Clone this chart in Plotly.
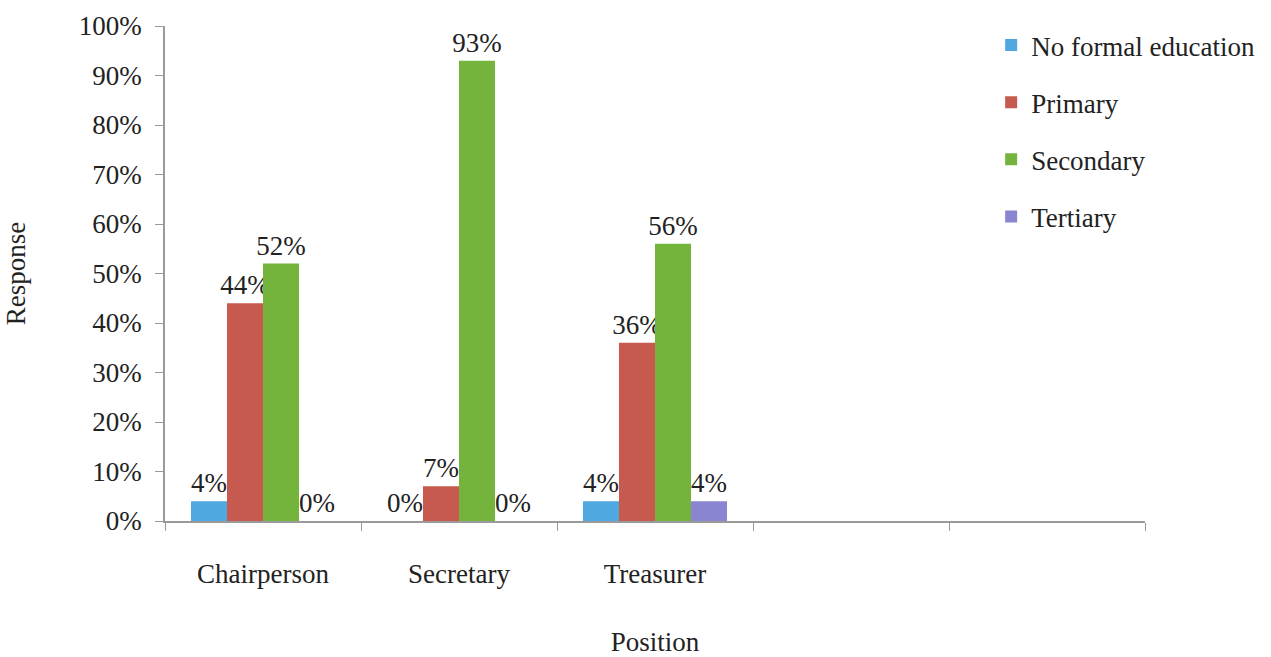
import plotly.graph_objects as go

# Education level of group officials by position
positions = ["Chairperson", "Secretary", "Treasurer"]
axis_categories = ["Chairperson", "Secretary", "Treasurer", " ", "  "]
series_names = ["No formal education", "Primary", "Secondary", "Tertiary"]
no_formal = [4, 0, 4]
primary = [44, 7, 36]
secondary = [52, 93, 56]
tertiary = [0, 0, 4]
y_ticks = [0, 10, 20, 30, 40, 50, 60, 70, 80, 90, 100]

colors = ["#4FA8E0", "#C65A4F", "#74B43C", "#8A85D0"]
FONT = "Liberation Serif"
TEXT = "#222222"
SIZE = 27

fig = go.Figure()
for i, (name, vals) in enumerate(zip(series_names, [no_formal, primary, secondary, tertiary])):
    fig.add_trace(go.Bar(
        name=name,
        x=positions,
        y=vals,
        marker=dict(color=colors[i], line=dict(width=0)),
        text=[f"{v}%" for v in vals],
        textposition="outside",
        constraintext="none",
        cliponaxis=False,
        textfont=dict(family=FONT, size=SIZE, color=TEXT),
        legendgroup=name,
    ))

fig.update_layout(
    width=1271,
    height=657,
    barmode="group",
    bargap=0.265,
    bargroupgap=0,
    plot_bgcolor="white",
    paper_bgcolor="white",
    margin=dict(l=165, r=126, t=26, b=136, autoexpand=False),
    font=dict(family=FONT, size=SIZE, color=TEXT),
    legend=dict(
        x=0.843, y=1.01, xanchor="left", yanchor="top",
        font=dict(family=FONT, size=27, color=TEXT),
        tracegroupgap=19,
        traceorder="grouped",
        bgcolor="rgba(0,0,0,0)",
    ),
    xaxis=dict(
        type="category",
        categoryorder="array",
        categoryarray=axis_categories,
        range=[-0.5, 4.5],
        tickson="boundaries",
        ticks="outside",
        ticklen=8,
        tickcolor="#9a9a9a",
        showline=True,
        linecolor="#9a9a9a",
        linewidth=1.5,
        showgrid=False,
        automargin=False,
        ticklabelstandoff=28,
        tickfont=dict(family=FONT, size=SIZE, color=TEXT),
        title=dict(text="Position", font=dict(family=FONT, size=SIZE, color=TEXT), standoff=50),
    ),
    yaxis=dict(
        range=[0, 100],
        tickvals=y_ticks,
        ticktext=[f"{v}%" for v in y_ticks],
        ticks="outside",
        ticklen=8,
        tickcolor="#9a9a9a",
        showline=True,
        linecolor="#9a9a9a",
        linewidth=1.5,
        showgrid=False,
        zeroline=False,
        automargin=False,
        ticklabelstandoff=8,
        tickfont=dict(family=FONT, size=SIZE, color=TEXT),
        title=dict(text="Response", font=dict(family=FONT, size=SIZE, color=TEXT), standoff=45),
    ),
)

fig.write_html("out.html")
